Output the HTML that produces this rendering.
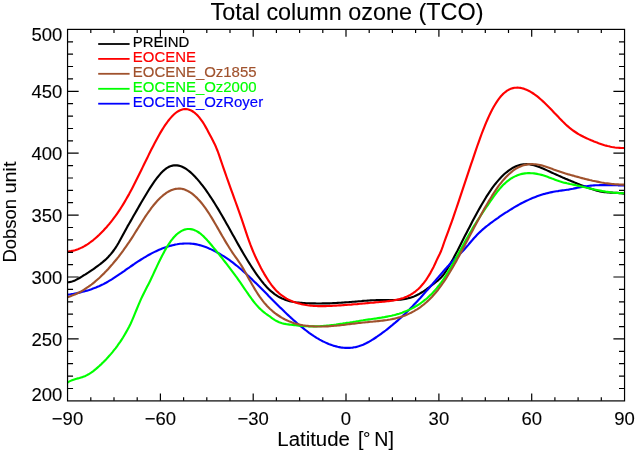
<!DOCTYPE html>
<html><head><meta charset="utf-8"><title>Total column ozone (TCO)</title>
<style>
html,body{margin:0;padding:0;background:#fff}
svg{display:block}
text{font-family:"Liberation Sans",sans-serif;fill:#000;stroke:#000;stroke-width:0.1px}
.tk{font-size:18.5px}
.ax{font-size:19.6px}
.lg{font-size:14.95px;stroke-width:0.17px}
.ti{font-size:23.4px}
</style></head><body>
<svg width="637" height="454" viewBox="0 0 637 454">
<rect width="637" height="454" fill="#fff"/>
<g fill="none" stroke-width="2.15" stroke-linejoin="round" stroke-linecap="butt">
<path stroke="#000000" d="M67.5,282.2 L69.0,282.1 L70.5,281.9 L72.0,281.5 L73.5,281.0 L75.0,280.4 L76.5,279.6 L78.0,278.8 L79.5,278.0 L81.0,277.1 L82.5,276.2 L84.0,275.2 L85.5,274.3 L87.0,273.3 L88.5,272.4 L90.0,271.4 L91.5,270.4 L93.0,269.4 L94.5,268.3 L96.0,267.2 L97.5,266.1 L99.0,265.0 L100.5,263.9 L102.0,262.7 L103.5,261.4 L105.0,260.1 L106.5,258.7 L108.0,257.2 L109.5,255.6 L111.0,253.9 L112.5,252.0 L114.0,250.0 L115.5,247.8 L117.0,245.5 L118.5,243.0 L120.0,240.3 L121.5,237.6 L123.0,234.8 L124.5,232.0 L126.0,229.2 L127.5,226.4 L129.1,223.7 L130.6,221.1 L132.1,218.5 L133.6,215.8 L135.1,213.2 L136.6,210.6 L138.1,208.0 L139.6,205.4 L141.1,202.8 L142.6,200.3 L144.1,197.7 L145.6,195.2 L147.1,192.7 L148.6,190.3 L150.1,187.9 L151.6,185.6 L153.1,183.4 L154.6,181.2 L156.1,179.2 L157.6,177.2 L159.1,175.4 L160.6,173.6 L162.1,172.1 L163.6,170.6 L165.1,169.3 L166.6,168.2 L168.1,167.3 L169.6,166.5 L171.1,166.0 L172.6,165.6 L174.1,165.3 L175.6,165.3 L177.1,165.4 L178.6,165.6 L180.1,166.0 L181.6,166.5 L183.1,167.2 L184.6,168.0 L186.1,168.9 L187.6,170.0 L189.1,171.1 L190.6,172.4 L192.1,173.7 L193.6,175.2 L195.1,176.8 L196.6,178.4 L198.1,180.1 L199.6,181.9 L201.1,183.8 L202.6,185.7 L204.1,187.7 L205.6,189.7 L207.1,191.9 L208.6,194.0 L210.1,196.3 L211.6,198.5 L213.1,200.9 L214.6,203.3 L216.1,205.7 L217.6,208.1 L219.1,210.6 L220.6,213.2 L222.1,215.8 L223.6,218.4 L225.1,221.0 L226.6,223.7 L228.1,226.3 L229.6,229.0 L231.1,231.7 L232.6,234.4 L234.1,237.1 L235.6,239.8 L237.1,242.5 L238.6,245.1 L240.1,247.8 L241.6,250.4 L243.1,253.0 L244.6,255.5 L246.1,258.0 L247.6,260.5 L249.1,262.9 L250.6,265.3 L252.1,267.6 L253.6,269.9 L255.1,272.2 L256.6,274.3 L258.1,276.4 L259.6,278.4 L261.1,280.4 L262.6,282.3 L264.1,284.1 L265.6,285.8 L267.1,287.4 L268.6,288.9 L270.1,290.4 L271.6,291.7 L273.1,292.9 L274.6,294.1 L276.1,295.1 L277.6,296.1 L279.1,297.0 L280.6,297.8 L282.1,298.5 L283.6,299.1 L285.1,299.7 L286.6,300.3 L288.1,300.7 L289.6,301.1 L291.1,301.5 L292.6,301.8 L294.1,302.0 L295.6,302.3 L297.1,302.5 L298.6,302.6 L300.1,302.8 L301.6,302.9 L303.1,303.0 L304.6,303.1 L306.1,303.2 L307.6,303.2 L309.1,303.3 L310.6,303.3 L312.1,303.4 L313.6,303.4 L315.1,303.4 L316.6,303.5 L318.1,303.5 L319.6,303.5 L321.1,303.5 L322.6,303.4 L324.1,303.4 L325.6,303.4 L327.1,303.4 L328.6,303.3 L330.1,303.3 L331.6,303.2 L333.1,303.1 L334.6,303.1 L336.1,303.0 L337.6,302.9 L339.1,302.8 L340.6,302.7 L342.1,302.6 L343.6,302.5 L345.1,302.4 L346.6,302.3 L348.1,302.2 L349.6,302.1 L351.1,302.0 L352.6,301.8 L354.1,301.7 L355.6,301.6 L357.1,301.5 L358.6,301.3 L360.1,301.2 L361.6,301.1 L363.1,300.9 L364.6,300.8 L366.1,300.7 L367.6,300.6 L369.1,300.5 L370.6,300.4 L372.1,300.3 L373.6,300.2 L375.1,300.2 L376.6,300.1 L378.1,300.1 L379.6,300.1 L381.1,300.1 L382.6,300.1 L384.1,300.1 L385.6,300.1 L387.1,300.1 L388.6,300.1 L390.1,300.1 L391.6,300.1 L393.1,300.1 L394.6,300.0 L396.1,300.0 L397.6,299.9 L399.1,299.8 L400.6,299.6 L402.1,299.4 L403.6,299.2 L405.1,298.9 L406.6,298.6 L408.1,298.3 L409.6,297.9 L411.1,297.4 L412.6,296.9 L414.1,296.4 L415.6,295.7 L417.1,295.0 L418.6,294.3 L420.1,293.4 L421.6,292.5 L423.1,291.6 L424.6,290.6 L426.1,289.5 L427.6,288.4 L429.1,287.3 L430.6,286.2 L432.1,285.0 L433.6,283.8 L435.1,282.7 L436.6,281.5 L438.1,280.3 L439.6,279.0 L441.1,277.5 L442.6,275.8 L444.1,273.8 L445.6,271.7 L447.1,269.3 L448.6,266.8 L450.1,264.3 L451.6,261.6 L453.1,258.9 L454.6,256.1 L456.1,253.2 L457.6,250.4 L459.1,247.4 L460.6,244.5 L462.1,241.5 L463.6,238.6 L465.1,235.6 L466.6,232.7 L468.1,229.8 L469.6,226.9 L471.1,224.0 L472.6,221.1 L474.1,218.3 L475.6,215.5 L477.1,212.8 L478.6,210.0 L480.1,207.4 L481.6,204.7 L483.1,202.2 L484.6,199.7 L486.1,197.2 L487.6,194.9 L489.1,192.6 L490.6,190.4 L492.1,188.2 L493.6,186.2 L495.1,184.2 L496.6,182.4 L498.1,180.6 L499.6,178.9 L501.1,177.3 L502.6,175.8 L504.1,174.3 L505.6,173.0 L507.1,171.8 L508.6,170.6 L510.1,169.6 L511.6,168.6 L513.0,167.7 L514.5,167.0 L516.0,166.3 L517.5,165.7 L519.0,165.2 L520.5,164.8 L522.0,164.5 L523.5,164.3 L525.0,164.2 L526.5,164.1 L528.0,164.2 L529.5,164.3 L531.0,164.6 L532.5,164.9 L534.0,165.2 L535.5,165.7 L537.0,166.2 L538.5,166.7 L540.0,167.3 L541.5,167.9 L543.0,168.5 L544.5,169.2 L546.0,169.9 L547.5,170.6 L549.0,171.3 L550.5,172.0 L552.0,172.7 L553.5,173.4 L555.0,174.1 L556.5,174.7 L558.0,175.4 L559.5,176.1 L561.0,176.7 L562.5,177.4 L564.0,178.0 L565.5,178.7 L567.0,179.3 L568.5,180.0 L570.0,180.6 L571.5,181.2 L573.0,181.8 L574.5,182.5 L576.0,183.1 L577.5,183.7 L579.0,184.3 L580.5,184.9 L582.0,185.5 L583.5,186.1 L585.0,186.6 L586.5,187.2 L588.0,187.8 L589.5,188.3 L591.0,188.8 L592.5,189.3 L594.0,189.8 L595.5,190.2 L597.0,190.7 L598.5,191.0 L600.0,191.4 L601.5,191.7 L603.0,191.9 L604.5,192.1 L606.0,192.3 L607.5,192.4 L609.0,192.5 L610.5,192.6 L612.0,192.6 L613.5,192.7 L615.0,192.8 L616.5,192.9 L618.0,192.9 L619.5,193.1 L621.0,193.2 L622.5,193.4 L624.5,193.7"/>
<path stroke="#0000ff" d="M67.5,294.7 L69.0,294.5 L70.5,294.3 L72.0,294.0 L73.5,293.8 L75.0,293.5 L76.5,293.2 L78.0,292.9 L79.5,292.6 L81.0,292.2 L82.5,291.8 L84.0,291.5 L85.5,291.0 L87.0,290.6 L88.5,290.2 L90.0,289.7 L91.5,289.2 L93.0,288.6 L94.5,288.1 L96.0,287.5 L97.5,286.8 L99.0,286.2 L100.5,285.5 L102.0,284.8 L103.5,284.1 L105.0,283.3 L106.5,282.5 L108.0,281.6 L109.5,280.7 L111.0,279.8 L112.5,278.9 L114.0,277.9 L115.5,276.9 L117.0,275.9 L118.5,274.9 L120.0,273.9 L121.5,272.9 L123.0,271.8 L124.5,270.8 L126.0,269.7 L127.5,268.6 L129.1,267.6 L130.6,266.5 L132.1,265.5 L133.6,264.5 L135.1,263.4 L136.6,262.4 L138.1,261.4 L139.6,260.5 L141.1,259.5 L142.6,258.6 L144.1,257.7 L145.6,256.8 L147.1,255.9 L148.6,255.0 L150.1,254.2 L151.6,253.4 L153.1,252.6 L154.6,251.9 L156.1,251.2 L157.6,250.5 L159.1,249.8 L160.6,249.2 L162.1,248.6 L163.6,248.0 L165.1,247.4 L166.6,246.9 L168.1,246.4 L169.6,246.0 L171.1,245.6 L172.6,245.2 L174.1,244.9 L175.6,244.5 L177.1,244.3 L178.6,244.0 L180.1,243.8 L181.6,243.7 L183.1,243.6 L184.6,243.5 L186.1,243.5 L187.6,243.5 L189.1,243.5 L190.6,243.6 L192.1,243.7 L193.6,243.9 L195.1,244.1 L196.6,244.4 L198.1,244.7 L199.6,245.1 L201.1,245.5 L202.6,246.0 L204.1,246.5 L205.6,247.0 L207.1,247.6 L208.6,248.3 L210.1,248.9 L211.6,249.6 L213.1,250.3 L214.6,251.1 L216.1,251.9 L217.6,252.7 L219.1,253.5 L220.6,254.4 L222.1,255.3 L223.6,256.2 L225.1,257.2 L226.6,258.2 L228.1,259.2 L229.6,260.2 L231.1,261.3 L232.6,262.4 L234.1,263.6 L235.6,264.8 L237.1,266.0 L238.6,267.2 L240.1,268.5 L241.6,269.8 L243.1,271.1 L244.6,272.4 L246.1,273.8 L247.6,275.2 L249.1,276.6 L250.6,278.0 L252.1,279.4 L253.6,280.9 L255.1,282.4 L256.6,283.8 L258.1,285.3 L259.6,286.8 L261.1,288.3 L262.6,289.8 L264.1,291.3 L265.6,292.8 L267.1,294.3 L268.6,295.9 L270.1,297.4 L271.6,298.9 L273.1,300.4 L274.6,301.9 L276.1,303.4 L277.6,304.9 L279.1,306.4 L280.6,307.9 L282.1,309.3 L283.6,310.8 L285.1,312.3 L286.6,313.7 L288.1,315.1 L289.6,316.5 L291.1,317.9 L292.6,319.2 L294.1,320.6 L295.6,321.9 L297.1,323.2 L298.6,324.5 L300.1,325.8 L301.6,327.0 L303.1,328.2 L304.6,329.4 L306.1,330.5 L307.6,331.7 L309.1,332.8 L310.6,333.8 L312.1,334.9 L313.6,335.9 L315.1,336.8 L316.6,337.8 L318.1,338.7 L319.6,339.6 L321.1,340.4 L322.6,341.2 L324.1,341.9 L325.6,342.6 L327.1,343.3 L328.6,344.0 L330.1,344.5 L331.6,345.1 L333.1,345.6 L334.6,346.0 L336.1,346.4 L337.6,346.8 L339.1,347.1 L340.6,347.4 L342.1,347.6 L343.6,347.8 L345.1,347.9 L346.6,347.9 L348.1,347.9 L349.6,347.9 L351.1,347.7 L352.6,347.6 L354.1,347.3 L355.6,347.1 L357.1,346.7 L358.6,346.3 L360.1,345.8 L361.6,345.3 L363.1,344.7 L364.6,344.0 L366.1,343.3 L367.6,342.5 L369.1,341.7 L370.6,340.8 L372.1,339.9 L373.6,339.0 L375.1,338.0 L376.6,337.0 L378.1,335.9 L379.6,334.9 L381.1,333.8 L382.6,332.7 L384.1,331.6 L385.6,330.5 L387.1,329.3 L388.6,328.1 L390.1,326.9 L391.6,325.7 L393.1,324.4 L394.6,323.2 L396.1,321.9 L397.6,320.6 L399.1,319.2 L400.6,317.9 L402.1,316.5 L403.6,315.1 L405.1,313.7 L406.6,312.2 L408.1,310.8 L409.6,309.3 L411.1,307.7 L412.6,306.2 L414.1,304.6 L415.6,303.0 L417.1,301.4 L418.6,299.8 L420.1,298.2 L421.6,296.5 L423.1,294.8 L424.6,293.1 L426.1,291.4 L427.6,289.7 L429.1,288.0 L430.6,286.2 L432.1,284.5 L433.6,282.7 L435.1,281.0 L436.6,279.2 L438.1,277.5 L439.6,275.7 L441.1,274.0 L442.6,272.3 L444.1,270.5 L445.6,268.8 L447.1,267.1 L448.6,265.5 L450.1,263.8 L451.6,262.2 L453.1,260.7 L454.6,259.1 L456.1,257.6 L457.6,256.1 L459.1,254.7 L460.6,253.2 L462.1,251.7 L463.6,250.2 L465.1,248.5 L466.6,246.8 L468.1,245.1 L469.6,243.3 L471.1,241.5 L472.6,239.8 L474.1,238.0 L475.6,236.4 L477.1,234.8 L478.6,233.3 L480.1,231.9 L481.6,230.5 L483.1,229.1 L484.6,227.9 L486.1,226.6 L487.6,225.5 L489.1,224.3 L490.6,223.2 L492.1,222.1 L493.6,221.0 L495.1,219.9 L496.6,218.8 L498.1,217.8 L499.6,216.7 L501.1,215.7 L502.6,214.7 L504.1,213.7 L505.6,212.7 L507.1,211.8 L508.6,210.8 L510.1,209.9 L511.6,209.0 L513.0,208.1 L514.5,207.2 L516.0,206.3 L517.5,205.5 L519.0,204.6 L520.5,203.8 L522.0,203.0 L523.5,202.3 L525.0,201.5 L526.5,200.8 L528.0,200.1 L529.5,199.4 L531.0,198.7 L532.5,198.1 L534.0,197.5 L535.5,196.9 L537.0,196.3 L538.5,195.8 L540.0,195.3 L541.5,194.8 L543.0,194.3 L544.5,193.9 L546.0,193.4 L547.5,193.1 L549.0,192.7 L550.5,192.4 L552.0,192.1 L553.5,191.8 L555.0,191.5 L556.5,191.3 L558.0,191.1 L559.5,190.8 L561.0,190.6 L562.5,190.4 L564.0,190.2 L565.5,190.0 L567.0,189.8 L568.5,189.6 L570.0,189.3 L571.5,189.0 L573.0,188.8 L574.5,188.4 L576.0,188.1 L577.5,187.8 L579.0,187.5 L580.5,187.2 L582.0,186.9 L583.5,186.6 L585.0,186.4 L586.5,186.2 L588.0,186.0 L589.5,185.8 L591.0,185.6 L592.5,185.5 L594.0,185.4 L595.5,185.3 L597.0,185.2 L598.5,185.2 L600.0,185.1 L601.5,185.1 L603.0,185.1 L604.5,185.1 L606.0,185.1 L607.5,185.1 L609.0,185.1 L610.5,185.1 L612.0,185.1 L613.5,185.2 L615.0,185.2 L616.5,185.2 L618.0,185.3 L619.5,185.3 L621.0,185.3 L622.5,185.3 L624.5,185.4"/>
<path stroke="#00ff00" d="M67.5,382.5 L69.0,381.6 L70.5,380.9 L72.0,380.2 L73.5,379.7 L75.0,379.2 L76.5,378.8 L78.0,378.4 L79.5,378.0 L81.0,377.5 L82.5,377.1 L84.0,376.5 L85.5,375.9 L87.0,375.1 L88.5,374.3 L90.0,373.4 L91.5,372.4 L93.0,371.3 L94.5,370.1 L96.0,368.9 L97.5,367.6 L99.0,366.3 L100.5,364.9 L102.0,363.4 L103.5,362.0 L105.0,360.4 L106.5,358.9 L108.0,357.2 L109.5,355.6 L111.0,353.9 L112.5,352.1 L114.0,350.2 L115.5,348.3 L117.0,346.3 L118.5,344.2 L120.0,342.1 L121.5,339.8 L123.0,337.5 L124.5,335.0 L126.0,332.4 L127.5,329.7 L129.1,326.8 L130.6,323.7 L132.1,320.4 L133.6,316.9 L135.1,313.2 L136.6,309.5 L138.1,305.8 L139.6,302.3 L141.1,298.9 L142.6,295.8 L144.1,292.7 L145.6,289.8 L147.1,286.8 L148.6,283.9 L150.1,280.9 L151.6,277.8 L153.1,274.6 L154.6,271.3 L156.1,268.1 L157.6,264.9 L159.1,261.7 L160.6,258.7 L162.1,255.7 L163.6,252.9 L165.1,250.1 L166.6,247.5 L168.1,245.1 L169.6,242.8 L171.1,240.7 L172.6,238.8 L174.1,237.0 L175.6,235.4 L177.1,234.0 L178.6,232.8 L180.1,231.8 L181.6,230.9 L183.1,230.2 L184.6,229.6 L186.1,229.2 L187.6,229.0 L189.1,229.0 L190.6,229.1 L192.1,229.4 L193.6,229.8 L195.1,230.4 L196.6,231.1 L198.1,232.0 L199.6,233.0 L201.1,234.2 L202.6,235.5 L204.1,236.9 L205.6,238.5 L207.1,240.1 L208.6,241.8 L210.1,243.5 L211.6,245.3 L213.1,247.1 L214.6,248.9 L216.1,250.7 L217.6,252.6 L219.1,254.4 L220.6,256.3 L222.1,258.2 L223.6,260.1 L225.1,262.0 L226.6,263.9 L228.1,265.9 L229.6,267.8 L231.1,269.8 L232.6,271.8 L234.1,273.8 L235.6,275.9 L237.1,277.9 L238.6,280.1 L240.1,282.2 L241.6,284.4 L243.1,286.6 L244.6,288.8 L246.1,291.0 L247.6,293.2 L249.1,295.3 L250.6,297.4 L252.1,299.5 L253.6,301.5 L255.1,303.4 L256.6,305.1 L258.1,306.8 L259.6,308.4 L261.1,309.8 L262.6,311.1 L264.1,312.3 L265.6,313.5 L267.1,314.6 L268.6,315.7 L270.1,316.7 L271.6,317.8 L273.1,318.9 L274.6,319.9 L276.1,320.8 L277.6,321.5 L279.1,322.2 L280.6,322.7 L282.1,323.2 L283.6,323.6 L285.1,323.9 L286.6,324.2 L288.1,324.4 L289.6,324.6 L291.1,324.8 L292.6,325.0 L294.1,325.1 L295.6,325.3 L297.1,325.5 L298.6,325.6 L300.1,325.8 L301.6,325.9 L303.1,326.0 L304.6,326.1 L306.1,326.2 L307.6,326.3 L309.1,326.4 L310.6,326.4 L312.1,326.4 L313.6,326.4 L315.1,326.4 L316.6,326.4 L318.1,326.3 L319.6,326.2 L321.1,326.1 L322.6,326.0 L324.1,325.9 L325.6,325.8 L327.1,325.6 L328.6,325.5 L330.1,325.3 L331.6,325.1 L333.1,325.0 L334.6,324.8 L336.1,324.6 L337.6,324.3 L339.1,324.1 L340.6,323.9 L342.1,323.7 L343.6,323.4 L345.1,323.2 L346.6,322.9 L348.1,322.7 L349.6,322.5 L351.1,322.2 L352.6,322.0 L354.1,321.7 L355.6,321.5 L357.1,321.2 L358.6,321.0 L360.1,320.7 L361.6,320.5 L363.1,320.3 L364.6,320.0 L366.1,319.8 L367.6,319.6 L369.1,319.4 L370.6,319.2 L372.1,319.0 L373.6,318.8 L375.1,318.6 L376.6,318.4 L378.1,318.1 L379.6,317.9 L381.1,317.7 L382.6,317.4 L384.1,317.2 L385.6,316.9 L387.1,316.6 L388.6,316.3 L390.1,316.0 L391.6,315.7 L393.1,315.3 L394.6,315.0 L396.1,314.6 L397.6,314.1 L399.1,313.7 L400.6,313.2 L402.1,312.7 L403.6,312.1 L405.1,311.5 L406.6,310.9 L408.1,310.3 L409.6,309.6 L411.1,308.9 L412.6,308.1 L414.1,307.3 L415.6,306.4 L417.1,305.5 L418.6,304.6 L420.1,303.6 L421.6,302.5 L423.1,301.4 L424.6,300.2 L426.1,299.0 L427.6,297.7 L429.1,296.3 L430.6,294.9 L432.1,293.4 L433.6,291.8 L435.1,290.1 L436.6,288.4 L438.1,286.5 L439.6,284.6 L441.1,282.6 L442.6,280.5 L444.1,278.3 L445.6,276.0 L447.1,273.6 L448.6,271.1 L450.1,268.6 L451.6,266.0 L453.1,263.4 L454.6,260.7 L456.1,258.0 L457.6,255.2 L459.1,252.5 L460.6,249.7 L462.1,247.0 L463.6,244.3 L465.1,241.5 L466.6,238.9 L468.1,236.2 L469.6,233.6 L471.1,231.0 L472.6,228.4 L474.1,225.9 L475.6,223.5 L477.1,221.1 L478.6,218.8 L480.1,216.5 L481.6,214.2 L483.1,211.9 L484.6,209.7 L486.1,207.5 L487.6,205.3 L489.1,203.1 L490.6,200.9 L492.1,198.8 L493.6,196.6 L495.1,194.6 L496.6,192.6 L498.1,190.7 L499.6,188.9 L501.1,187.2 L502.6,185.6 L504.1,184.1 L505.6,182.7 L507.1,181.4 L508.6,180.3 L510.1,179.2 L511.6,178.2 L513.0,177.4 L514.5,176.6 L516.0,175.9 L517.5,175.3 L519.0,174.7 L520.5,174.3 L522.0,173.9 L523.5,173.6 L525.0,173.4 L526.5,173.2 L528.0,173.1 L529.5,173.1 L531.0,173.2 L532.5,173.3 L534.0,173.4 L535.5,173.6 L537.0,173.9 L538.5,174.2 L540.0,174.5 L541.5,174.9 L543.0,175.3 L544.5,175.8 L546.0,176.3 L547.5,176.8 L549.0,177.4 L550.5,178.0 L552.0,178.6 L553.5,179.1 L555.0,179.7 L556.5,180.3 L558.0,180.8 L559.5,181.3 L561.0,181.7 L562.5,182.2 L564.0,182.6 L565.5,182.9 L567.0,183.3 L568.5,183.6 L570.0,184.0 L571.5,184.3 L573.0,184.6 L574.5,184.9 L576.0,185.3 L577.5,185.6 L579.0,185.9 L580.5,186.3 L582.0,186.6 L583.5,187.0 L585.0,187.3 L586.5,187.7 L588.0,188.0 L589.5,188.4 L591.0,188.7 L592.5,189.0 L594.0,189.4 L595.5,189.7 L597.0,190.0 L598.5,190.3 L600.0,190.6 L601.5,190.9 L603.0,191.2 L604.5,191.4 L606.0,191.7 L607.5,191.9 L609.0,192.1 L610.5,192.3 L612.0,192.5 L613.5,192.7 L615.0,192.8 L616.5,192.9 L618.0,193.0 L619.5,193.1 L621.0,193.2 L622.5,193.2 L624.5,193.2"/>
<path stroke="#a0522d" d="M67.5,297.1 L69.0,296.7 L70.5,296.2 L72.0,295.6 L73.5,295.1 L75.0,294.4 L76.5,293.8 L78.0,293.0 L79.5,292.3 L81.0,291.5 L82.5,290.6 L84.0,289.7 L85.5,288.7 L87.0,287.7 L88.5,286.7 L90.0,285.6 L91.5,284.5 L93.0,283.3 L94.5,282.1 L96.0,280.8 L97.5,279.5 L99.0,278.2 L100.5,276.8 L102.0,275.3 L103.5,273.9 L105.0,272.3 L106.5,270.8 L108.0,269.2 L109.5,267.5 L111.0,265.8 L112.5,264.1 L114.0,262.3 L115.5,260.5 L117.0,258.7 L118.5,256.8 L120.0,254.8 L121.5,252.8 L123.0,250.8 L124.5,248.7 L126.0,246.6 L127.5,244.4 L129.1,242.2 L130.6,239.9 L132.1,237.6 L133.6,235.2 L135.1,232.8 L136.6,230.4 L138.1,228.0 L139.6,225.6 L141.1,223.2 L142.6,220.9 L144.1,218.5 L145.6,216.2 L147.1,214.0 L148.6,211.8 L150.1,209.8 L151.6,207.7 L153.1,205.8 L154.6,204.0 L156.1,202.2 L157.6,200.6 L159.1,199.0 L160.6,197.5 L162.1,196.2 L163.6,194.9 L165.1,193.8 L166.6,192.7 L168.1,191.8 L169.6,191.0 L171.1,190.3 L172.6,189.7 L174.1,189.2 L175.6,188.9 L177.1,188.7 L178.6,188.6 L180.1,188.6 L181.6,188.8 L183.1,189.1 L184.6,189.6 L186.1,190.2 L187.6,190.9 L189.1,191.7 L190.6,192.6 L192.1,193.7 L193.6,194.9 L195.1,196.2 L196.6,197.6 L198.1,199.2 L199.6,200.8 L201.1,202.5 L202.6,204.4 L204.1,206.4 L205.6,208.4 L207.1,210.6 L208.6,212.8 L210.1,215.2 L211.6,217.6 L213.1,220.1 L214.6,222.7 L216.1,225.3 L217.6,227.9 L219.1,230.5 L220.6,233.1 L222.1,235.8 L223.6,238.3 L225.1,240.9 L226.6,243.4 L228.1,245.8 L229.6,248.2 L231.1,250.5 L232.6,252.8 L234.1,255.0 L235.6,257.1 L237.1,259.2 L238.6,261.3 L240.1,263.5 L241.6,265.9 L243.1,268.4 L244.6,271.0 L246.1,273.7 L247.6,276.5 L249.1,279.2 L250.6,281.8 L252.1,284.5 L253.6,287.0 L255.1,289.6 L256.6,292.0 L258.1,294.3 L259.6,296.6 L261.1,298.7 L262.6,300.7 L264.1,302.6 L265.6,304.3 L267.1,306.0 L268.6,307.5 L270.1,309.0 L271.6,310.3 L273.1,311.6 L274.6,312.8 L276.1,314.0 L277.6,315.0 L279.1,316.0 L280.6,317.0 L282.1,317.9 L283.6,318.7 L285.1,319.5 L286.6,320.2 L288.1,320.9 L289.6,321.6 L291.1,322.1 L292.6,322.7 L294.1,323.2 L295.6,323.6 L297.1,324.0 L298.6,324.4 L300.1,324.7 L301.6,325.0 L303.1,325.3 L304.6,325.5 L306.1,325.7 L307.6,325.9 L309.1,326.1 L310.6,326.2 L312.1,326.3 L313.6,326.4 L315.1,326.5 L316.6,326.5 L318.1,326.5 L319.6,326.5 L321.1,326.5 L322.6,326.5 L324.1,326.5 L325.6,326.4 L327.1,326.3 L328.6,326.3 L330.1,326.2 L331.6,326.0 L333.1,325.9 L334.6,325.8 L336.1,325.7 L337.6,325.5 L339.1,325.4 L340.6,325.2 L342.1,325.0 L343.6,324.9 L345.1,324.7 L346.6,324.5 L348.1,324.3 L349.6,324.1 L351.1,323.9 L352.6,323.8 L354.1,323.6 L355.6,323.4 L357.1,323.2 L358.6,323.0 L360.1,322.9 L361.6,322.7 L363.1,322.5 L364.6,322.4 L366.1,322.2 L367.6,322.1 L369.1,321.9 L370.6,321.8 L372.1,321.7 L373.6,321.5 L375.1,321.4 L376.6,321.3 L378.1,321.1 L379.6,320.9 L381.1,320.8 L382.6,320.6 L384.1,320.4 L385.6,320.2 L387.1,320.0 L388.6,319.7 L390.1,319.5 L391.6,319.2 L393.1,318.9 L394.6,318.6 L396.1,318.2 L397.6,317.8 L399.1,317.4 L400.6,316.9 L402.1,316.5 L403.6,315.9 L405.1,315.4 L406.6,314.8 L408.1,314.1 L409.6,313.4 L411.1,312.7 L412.6,311.9 L414.1,311.1 L415.6,310.2 L417.1,309.3 L418.6,308.3 L420.1,307.3 L421.6,306.2 L423.1,305.0 L424.6,303.8 L426.1,302.5 L427.6,301.1 L429.1,299.7 L430.6,298.2 L432.1,296.7 L433.6,295.0 L435.1,293.3 L436.6,291.5 L438.1,289.7 L439.6,287.7 L441.1,285.7 L442.6,283.5 L444.1,281.3 L445.6,279.1 L447.1,276.7 L448.6,274.3 L450.1,271.8 L451.6,269.3 L453.1,266.7 L454.6,264.0 L456.1,261.4 L457.6,258.6 L459.1,255.9 L460.6,253.1 L462.1,250.3 L463.6,247.5 L465.1,244.6 L466.6,241.8 L468.1,238.9 L469.6,236.1 L471.1,233.2 L472.6,230.4 L474.1,227.6 L475.6,224.8 L477.1,222.0 L478.6,219.2 L480.1,216.4 L481.6,213.7 L483.1,211.0 L484.6,208.4 L486.1,205.7 L487.6,203.2 L489.1,200.6 L490.6,198.2 L492.1,195.7 L493.6,193.4 L495.1,191.1 L496.6,188.9 L498.1,186.7 L499.6,184.7 L501.1,182.8 L502.6,180.9 L504.1,179.2 L505.6,177.5 L507.1,176.0 L508.6,174.5 L510.1,173.2 L511.6,171.9 L513.0,170.7 L514.5,169.7 L516.0,168.7 L517.5,167.8 L519.0,167.0 L520.5,166.4 L522.0,165.8 L523.5,165.3 L525.0,164.9 L526.5,164.6 L528.0,164.3 L529.5,164.2 L531.0,164.1 L532.5,164.1 L534.0,164.2 L535.5,164.3 L537.0,164.5 L538.5,164.8 L540.0,165.1 L541.5,165.4 L543.0,165.8 L544.5,166.2 L546.0,166.7 L547.5,167.2 L549.0,167.7 L550.5,168.3 L552.0,168.8 L553.5,169.4 L555.0,169.9 L556.5,170.5 L558.0,171.0 L559.5,171.5 L561.0,172.0 L562.5,172.5 L564.0,173.0 L565.5,173.5 L567.0,173.9 L568.5,174.4 L570.0,174.8 L571.5,175.2 L573.0,175.6 L574.5,176.1 L576.0,176.5 L577.5,176.9 L579.0,177.3 L580.5,177.7 L582.0,178.1 L583.5,178.5 L585.0,178.9 L586.5,179.2 L588.0,179.6 L589.5,180.0 L591.0,180.3 L592.5,180.7 L594.0,181.0 L595.5,181.3 L597.0,181.6 L598.5,181.9 L600.0,182.2 L601.5,182.5 L603.0,182.7 L604.5,183.0 L606.0,183.2 L607.5,183.4 L609.0,183.6 L610.5,183.8 L612.0,184.0 L613.5,184.1 L615.0,184.2 L616.5,184.4 L618.0,184.4 L619.5,184.5 L621.0,184.6 L622.5,184.6 L624.5,184.6"/>
<path stroke="#ff0000" d="M67.5,251.5 L69.0,251.4 L70.5,251.2 L72.0,250.9 L73.5,250.6 L75.0,250.2 L76.5,249.7 L78.0,249.2 L79.5,248.6 L81.0,247.9 L82.5,247.2 L84.0,246.4 L85.5,245.5 L87.0,244.6 L88.5,243.6 L90.0,242.5 L91.5,241.4 L93.0,240.3 L94.5,239.0 L96.0,237.7 L97.5,236.4 L99.0,235.0 L100.5,233.5 L102.0,232.0 L103.5,230.5 L105.0,228.8 L106.5,227.2 L108.0,225.4 L109.5,223.7 L111.0,221.8 L112.5,219.9 L114.0,217.9 L115.5,215.9 L117.0,213.8 L118.5,211.6 L120.0,209.4 L121.5,207.0 L123.0,204.6 L124.5,202.1 L126.0,199.5 L127.5,196.9 L129.1,194.1 L130.6,191.3 L132.1,188.5 L133.6,185.6 L135.1,182.6 L136.6,179.6 L138.1,176.6 L139.6,173.6 L141.1,170.5 L142.6,167.4 L144.1,164.3 L145.6,161.3 L147.1,158.2 L148.6,155.1 L150.1,152.1 L151.6,149.1 L153.1,146.2 L154.6,143.3 L156.1,140.5 L157.6,137.7 L159.1,135.0 L160.6,132.4 L162.1,129.9 L163.6,127.5 L165.1,125.2 L166.6,123.1 L168.1,121.0 L169.6,119.1 L171.1,117.4 L172.6,115.7 L174.1,114.3 L175.6,113.0 L177.1,111.9 L178.6,111.0 L180.1,110.2 L181.6,109.7 L183.1,109.3 L184.6,109.1 L186.1,109.1 L187.6,109.3 L189.1,109.7 L190.6,110.3 L192.1,111.0 L193.6,112.0 L195.1,113.2 L196.6,114.5 L198.1,116.1 L199.6,117.8 L201.1,119.8 L202.6,121.9 L204.1,124.3 L205.6,126.9 L207.1,129.6 L208.6,132.4 L210.1,135.3 L211.6,138.1 L213.1,140.9 L214.6,143.9 L216.1,147.3 L217.6,151.0 L219.1,155.2 L220.6,159.6 L222.1,164.0 L223.6,168.4 L225.1,172.7 L226.6,177.0 L228.1,181.2 L229.6,185.4 L231.1,189.6 L232.6,193.7 L234.1,197.9 L235.6,202.0 L237.1,206.2 L238.6,210.4 L240.1,214.6 L241.6,218.9 L243.1,223.3 L244.6,227.8 L246.1,232.4 L247.6,236.8 L249.1,241.1 L250.6,245.2 L252.1,249.0 L253.6,252.6 L255.1,256.0 L256.6,259.2 L258.1,262.3 L259.6,265.3 L261.1,268.2 L262.6,270.9 L264.1,273.6 L265.6,276.1 L267.1,278.5 L268.6,280.8 L270.1,283.0 L271.6,285.1 L273.1,287.0 L274.6,288.8 L276.1,290.4 L277.6,291.9 L279.1,293.3 L280.6,294.5 L282.1,295.7 L283.6,296.7 L285.1,297.7 L286.6,298.6 L288.1,299.4 L289.6,300.1 L291.1,300.8 L292.6,301.4 L294.1,302.0 L295.6,302.5 L297.1,303.0 L298.6,303.4 L300.1,303.8 L301.6,304.2 L303.1,304.5 L304.6,304.8 L306.1,305.0 L307.6,305.3 L309.1,305.5 L310.6,305.6 L312.1,305.8 L313.6,305.9 L315.1,306.0 L316.6,306.0 L318.1,306.1 L319.6,306.1 L321.1,306.1 L322.6,306.1 L324.1,306.1 L325.6,306.1 L327.1,306.0 L328.6,306.0 L330.1,305.9 L331.6,305.9 L333.1,305.8 L334.6,305.7 L336.1,305.6 L337.6,305.5 L339.1,305.4 L340.6,305.4 L342.1,305.3 L343.6,305.1 L345.1,305.0 L346.6,304.9 L348.1,304.8 L349.6,304.7 L351.1,304.6 L352.6,304.4 L354.1,304.3 L355.6,304.2 L357.1,304.1 L358.6,303.9 L360.1,303.8 L361.6,303.7 L363.1,303.5 L364.6,303.4 L366.1,303.2 L367.6,303.1 L369.1,303.0 L370.6,302.8 L372.1,302.7 L373.6,302.6 L375.1,302.4 L376.6,302.3 L378.1,302.2 L379.6,302.0 L381.1,301.9 L382.6,301.8 L384.1,301.6 L385.6,301.5 L387.1,301.3 L388.6,301.1 L390.1,300.9 L391.6,300.7 L393.1,300.5 L394.6,300.2 L396.1,299.9 L397.6,299.6 L399.1,299.2 L400.6,298.8 L402.1,298.4 L403.6,297.9 L405.1,297.3 L406.6,296.7 L408.1,296.0 L409.6,295.3 L411.1,294.4 L412.6,293.5 L414.1,292.4 L415.6,291.3 L417.1,290.0 L418.6,288.7 L420.1,287.2 L421.6,285.5 L423.1,283.8 L424.6,281.8 L426.1,279.8 L427.6,277.5 L429.1,275.1 L430.6,272.6 L432.1,269.8 L433.6,266.9 L435.1,263.7 L436.6,260.4 L438.1,257.2 L439.6,254.2 L441.1,251.0 L442.6,246.9 L444.1,242.5 L445.6,238.3 L447.1,234.3 L448.6,230.3 L450.1,226.2 L451.6,222.1 L453.1,217.8 L454.6,213.4 L456.1,209.0 L457.6,204.6 L459.1,200.2 L460.6,195.7 L462.1,191.2 L463.6,186.7 L465.1,182.2 L466.6,177.7 L468.1,173.2 L469.6,168.7 L471.1,164.2 L472.6,159.8 L474.1,155.3 L475.6,150.9 L477.1,146.5 L478.6,142.3 L480.1,138.1 L481.6,134.0 L483.1,130.1 L484.6,126.3 L486.1,122.6 L487.6,119.2 L489.1,115.9 L490.6,112.7 L492.1,109.8 L493.6,107.0 L495.1,104.5 L496.6,102.1 L498.1,99.9 L499.6,97.9 L501.1,96.0 L502.6,94.4 L504.1,93.0 L505.6,91.8 L507.1,90.7 L508.6,89.8 L510.1,89.1 L511.6,88.5 L513.0,88.1 L514.5,87.8 L516.0,87.7 L517.5,87.6 L519.0,87.7 L520.5,87.9 L522.0,88.2 L523.5,88.6 L525.0,89.2 L526.5,89.8 L528.0,90.4 L529.5,91.2 L531.0,92.1 L532.5,93.0 L534.0,94.0 L535.5,95.1 L537.0,96.2 L538.5,97.4 L540.0,98.7 L541.5,100.0 L543.0,101.4 L544.5,102.8 L546.0,104.2 L547.5,105.7 L549.0,107.2 L550.5,108.7 L552.0,110.3 L553.5,111.9 L555.0,113.5 L556.5,115.0 L558.0,116.6 L559.5,118.2 L561.0,119.7 L562.5,121.3 L564.0,122.7 L565.5,124.2 L567.0,125.6 L568.5,126.9 L570.0,128.2 L571.5,129.3 L573.0,130.5 L574.5,131.5 L576.0,132.5 L577.5,133.5 L579.0,134.4 L580.5,135.2 L582.0,136.0 L583.5,136.8 L585.0,137.5 L586.5,138.2 L588.0,138.9 L589.5,139.6 L591.0,140.2 L592.5,140.8 L594.0,141.5 L595.5,142.1 L597.0,142.6 L598.5,143.2 L600.0,143.7 L601.5,144.2 L603.0,144.7 L604.5,145.2 L606.0,145.6 L607.5,146.0 L609.0,146.3 L610.5,146.7 L612.0,147.0 L613.5,147.2 L615.0,147.5 L616.5,147.7 L618.0,147.8 L619.5,147.9 L621.0,148.0 L622.5,148.0 L624.5,148.0"/>
</g>
<g stroke="#000" stroke-width="1.2" fill="none" stroke-linecap="square">
<rect x="67.55" y="29.4" width="557.0" height="371.5"/>
</g>
<g stroke="#000" stroke-width="1.2" fill="none">
<path d="M90.8,400.85v-3.7M90.8,29.4v3.7M114.0,400.85v-3.7M114.0,29.4v3.7M137.2,400.85v-3.7M137.2,29.4v3.7M160.4,400.85v-7.4M160.4,29.4v7.4M183.6,400.85v-3.7M183.6,29.4v3.7M206.8,400.85v-3.7M206.8,29.4v3.7M230.0,400.85v-3.7M230.0,29.4v3.7M253.2,400.85v-7.4M253.2,29.4v7.4M276.4,400.85v-3.7M276.4,29.4v3.7M299.6,400.85v-3.7M299.6,29.4v3.7M322.8,400.85v-3.7M322.8,29.4v3.7M346.0,400.85v-7.4M346.0,29.4v7.4M369.2,400.85v-3.7M369.2,29.4v3.7M392.4,400.85v-3.7M392.4,29.4v3.7M415.6,400.85v-3.7M415.6,29.4v3.7M438.9,400.85v-7.4M438.9,29.4v7.4M462.1,400.85v-3.7M462.1,29.4v3.7M485.3,400.85v-3.7M485.3,29.4v3.7M508.5,400.85v-3.7M508.5,29.4v3.7M531.7,400.85v-7.4M531.7,29.4v7.4M554.9,400.85v-3.7M554.9,29.4v3.7M578.1,400.85v-3.7M578.1,29.4v3.7M601.3,400.85v-3.7M601.3,29.4v3.7M67.55,388.5h5.5M624.5,388.5h-5.5M67.55,376.1h5.5M624.5,376.1h-5.5M67.55,363.7h5.5M624.5,363.7h-5.5M67.55,351.3h5.5M624.5,351.3h-5.5M67.55,338.9h11.1M624.5,338.9h-11.1M67.55,326.6h5.5M624.5,326.6h-5.5M67.55,314.2h5.5M624.5,314.2h-5.5M67.55,301.8h5.5M624.5,301.8h-5.5M67.55,289.4h5.5M624.5,289.4h-5.5M67.55,277.0h11.1M624.5,277.0h-11.1M67.55,264.7h5.5M624.5,264.7h-5.5M67.55,252.3h5.5M624.5,252.3h-5.5M67.55,239.9h5.5M624.5,239.9h-5.5M67.55,227.5h5.5M624.5,227.5h-5.5M67.55,215.1h11.1M624.5,215.1h-11.1M67.55,202.7h5.5M624.5,202.7h-5.5M67.55,190.4h5.5M624.5,190.4h-5.5M67.55,178.0h5.5M624.5,178.0h-5.5M67.55,165.6h5.5M624.5,165.6h-5.5M67.55,153.2h11.1M624.5,153.2h-11.1M67.55,140.8h5.5M624.5,140.8h-5.5M67.55,128.5h5.5M624.5,128.5h-5.5M67.55,116.1h5.5M624.5,116.1h-5.5M67.55,103.7h5.5M624.5,103.7h-5.5M67.55,91.3h11.1M624.5,91.3h-11.1M67.55,78.9h5.5M624.5,78.9h-5.5M67.55,66.5h5.5M624.5,66.5h-5.5M67.55,54.2h5.5M624.5,54.2h-5.5M67.55,41.8h5.5M624.5,41.8h-5.5"/>
</g>
<text class="tk" x="67.5" y="424.8" text-anchor="middle">−90</text>
<text class="tk" x="160.4" y="424.8" text-anchor="middle">−60</text>
<text class="tk" x="253.2" y="424.8" text-anchor="middle">−30</text>
<text class="tk" x="346.0" y="424.8" text-anchor="middle">0</text>
<text class="tk" x="438.9" y="424.8" text-anchor="middle">30</text>
<text class="tk" x="531.7" y="424.8" text-anchor="middle">60</text>
<text class="tk" x="624.5" y="424.8" text-anchor="middle">90</text>
<text class="tk" x="62.3" y="400.6" text-anchor="end">200</text>
<text class="tk" x="62.3" y="345.5" text-anchor="end">250</text>
<text class="tk" x="62.3" y="283.6" text-anchor="end">300</text>
<text class="tk" x="62.3" y="221.7" text-anchor="end">350</text>
<text class="tk" x="62.3" y="159.8" text-anchor="end">400</text>
<text class="tk" x="62.3" y="97.9" text-anchor="end">450</text>
<text class="tk" x="62.3" y="40.7" text-anchor="end">500</text>
<text class="ti" x="347.0" y="19.6" text-anchor="middle">Total column ozone (TCO)</text>
<text class="ax" x="277.3" y="445.8" textLength="72.6" lengthAdjust="spacingAndGlyphs">Latitude</text>
<text class="ax" x="358.0" y="445.8">[</text>
<text class="ax" x="363.0" y="445.0" style="font-size:18.5px">°</text>
<text class="ax" x="374.3" y="445.8">N]</text>
<text class="ax" style="font-size:19.1px" transform="translate(16.3,262.5) rotate(-90)" textLength="63.6" lengthAdjust="spacingAndGlyphs">Dobson</text>
<text class="ax" style="font-size:19.1px" transform="translate(16.3,193.6) rotate(-90)" textLength="32.0" lengthAdjust="spacingAndGlyphs">unit</text>
<g stroke-width="1.8" fill="none">
<path stroke="#000000" d="M98.2,44.0H129.6"/>
<path stroke="#ff0000" d="M98.2,58.9H129.6"/>
<path stroke="#a0522d" d="M98.2,73.8H129.6"/>
<path stroke="#00ff00" d="M98.2,88.8H129.6"/>
<path stroke="#0000ff" d="M98.2,103.7H129.6"/>
</g>
<text class="lg" transform="translate(132.8,47.25) scale(1,0.945)" style="fill:#000000;stroke:#000000">PREIND</text>
<text class="lg" transform="translate(132.8,62.15) scale(1,0.945)" style="fill:#ff0000;stroke:#ff0000">EOCENE</text>
<text class="lg" transform="translate(132.8,77.05) scale(1,0.945)" style="fill:#a0522d;stroke:#a0522d">EOCENE_Oz1855</text>
<text class="lg" transform="translate(132.8,91.95) scale(1,0.945)" style="fill:#00ff00;stroke:#00ff00">EOCENE_Oz2000</text>
<text class="lg" transform="translate(132.8,106.85) scale(1,0.945)" style="fill:#0000ff;stroke:#0000ff">EOCENE_OzRoyer</text>
</svg></body></html>
